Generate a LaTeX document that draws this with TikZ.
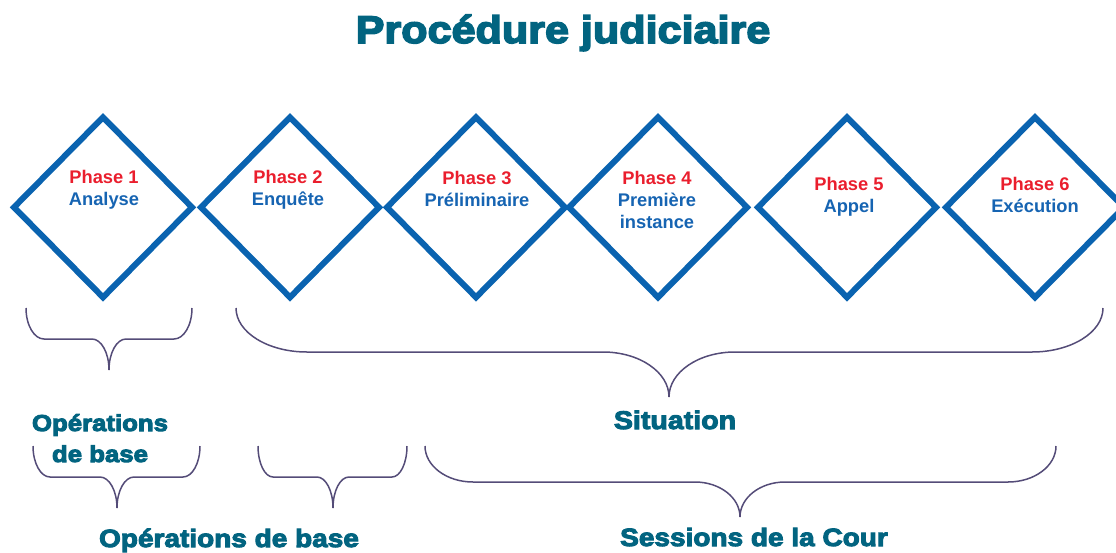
\documentclass[tikz,border=0pt]{standalone}
\usepackage{fontspec}
\setmainfont{Liberation Sans}
\newfontfamily\heavyfont[FakeStretch=1.12]{Liberation Sans Bold}
\usetikzlibrary{shapes.geometric}
\definecolor{diamblue}{RGB}{10,99,176}
\definecolor{txtblue}{RGB}{22,100,178}
\definecolor{phred}{RGB}{234,30,45}
\definecolor{teal}{RGB}{2,100,128}
\definecolor{bracecol}{RGB}{84,76,120}
\newcommand\heavytext[2]{\special{pdf:literal direct 2 Tr #1 w}#2\special{pdf:literal direct 0 Tr}}
\newcommand\stackedtext[1]{\begin{tabular}[t]{@{}c@{}}#1\end{tabular}}
\newcommand\curlybrace[8]{%
  \draw[bracestyle] (#1,#3) .. controls (#1,{#3+0.552*(#4-#3)}) and ({#1+0.448*#5},#4) .. ({#1+#5},#4)
   -- ({#6-#8},#4) .. controls ({#6-0.448*#8},#4) and (#6,{#7-0.552*(#7-#4)}) .. (#6,#7)
   .. controls (#6,{#7-0.552*(#7-#4)}) and ({#6+0.448*#8},#4) .. ({#6+#8},#4)
   -- ({#2-#5},#4) .. controls ({#2-0.448*#5},#4) and (#2,{#3+0.552*(#4-#3)}) .. (#2,#3);}
\tikzset{
  phasebox/.style={diamond, draw=diamblue, line width=6pt, minimum width=178pt, minimum height=180pt, inner sep=0pt, outer sep=0pt},
  phasetext/.style={anchor=base, inner sep=0pt, text=txtblue, font=\bfseries\fontsize{18.3}{22}\selectfont},
  bracestyle/.style={draw=bracecol, line width=1.5pt},
  headline/.style={anchor=base, inner sep=0pt, text=teal, font=\heavyfont\fontsize{38.5}{44}\selectfont},
  grouplabel/.style={anchor=base, inner sep=0pt, text=teal, font=\heavyfont\fontsize{25}{31}\selectfont},
}
\begin{document}
\begin{tikzpicture}[x=1pt,y=-1pt]
\useasboundingbox (0,0) rectangle (1116,552);
\clip (0,0) rectangle (1116,552);
\node[headline] (title) at (563,43) {\heavytext{1.6}{Procédure judiciaire}};
% diamonds
\node[phasebox] (d1) at (103,207.3) {};
\node[phasebox] (d2) at (290,207.3) {};
\node[phasebox] (d3) at (476,207.3) {};
\node[phasebox] (d4) at (658,207.3) {};
\node[phasebox] (d5) at (847,207.3) {};
\node[phasebox] (d6) at (1035,207.3) {};
% phase texts
\node[phasetext] (t1) at (104,183) {\stackedtext{\textcolor{phred}{Phase 1}\\Analyse}};
\node[phasetext] (t2) at (288,183) {\stackedtext{\textcolor{phred}{Phase 2}\\Enquête}};
\node[phasetext] (t3) at (477,184) {\stackedtext{\textcolor{phred}{Phase 3}\\Préliminaire}};
\node[phasetext] (t4) at (657,184) {\stackedtext{\textcolor{phred}{Phase 4}\\Première\\instance}};
\node[phasetext] (t5) at (849,190) {\stackedtext{\textcolor{phred}{Phase 5}\\Appel}};
\node[phasetext] (t6) at (1035,190) {\stackedtext{\textcolor{phred}{Phase 6}\\Exécution}};
% braces
\curlybrace{26}{192}{308}{339}{18}{109}{370}{17}
\curlybrace{236}{1103}{308}{352}{71}{669}{397}{66}
\curlybrace{33}{200}{446}{477}{17}{117}{508}{17}
\curlybrace{258}{407}{446}{477}{15}{333}{508}{16}
\curlybrace{425}{1056}{446}{482}{48}{740}{517}{45}
% labels
\node[grouplabel, font=\heavyfont\fontsize{23}{31}\selectfont] (opbase1) at (100,431) {\heavytext{1}{\stackedtext{Opérations\\de base}}};
\node[grouplabel, font=\heavyfont\fontsize{25.5}{31}\selectfont] (situation) at (675,429) {\heavytext{1}{Situation}};
\node[grouplabel] (opbase2) at (229,547) {\heavytext{1}{Opérations de base}};
\node[grouplabel] (sessions) at (754,546) {\heavytext{1}{Sessions de la Cour}};
\end{tikzpicture}
\end{document}
